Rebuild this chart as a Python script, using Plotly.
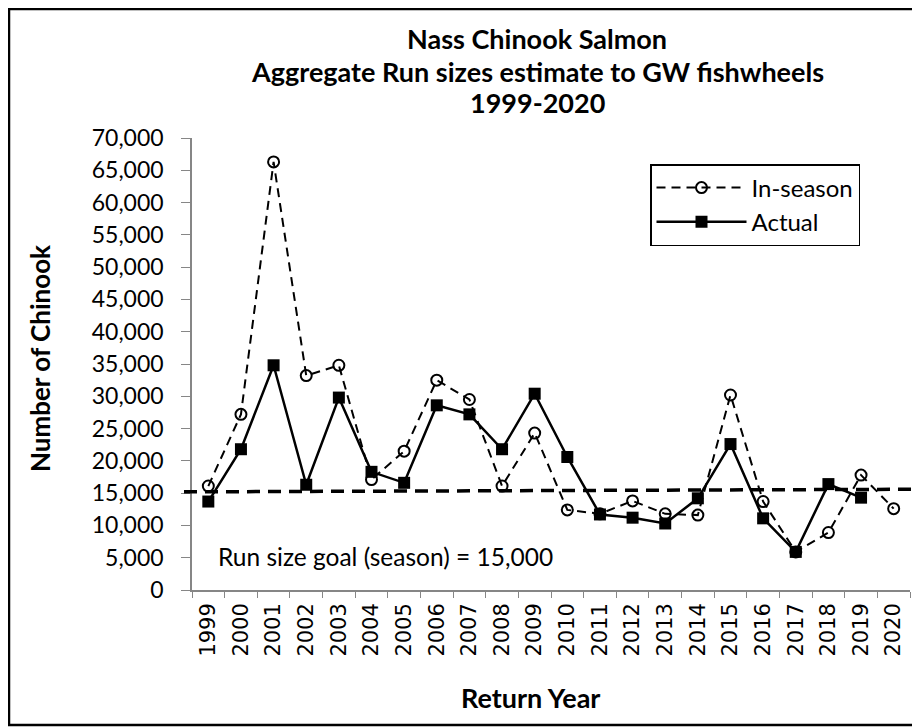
import plotly.graph_objects as go

years = [str(y) for y in range(1999, 2021)]
in_season = [16100, 27200, 66300, 33200, 34800, 17100, 21500, 32500, 29500, 16100, 24300,
             12400, 11800, 13800, 11800, 11600, 30200, 13700, 5900, 8900, 17800, 12600]
actual = [13700, 21800, 34800, 16300, 29800, 18300, 16600, 28600, 27200, 21800, 30400,
          20600, 11700, 11200, 10300, 14200, 22600, 11100, 5900, 16400, 14300, None]
goal = 15000
goal_line = [15200, 15600]  # drawn line drifts slightly upward to the right

# page sits 8px in from the window edge (body margin), so work in page pixels
OFF = 8
W, H = 920 - OFF, 728 - OFF
L, T = 192 - OFF, 138 - OFF
R, B = W - (910 - OFF), H - (590 - OFF)
pw, ph = W - L - R, H - T - B


def px_x(p):
    return (p - OFF - L) / pw


def px_y(p):
    return (H - B - (p - OFF)) / ph


calibri = "Lato"

fig = go.Figure()
fig.add_trace(go.Scatter(
    x=years, y=in_season, name="In-season", mode="lines+markers",
    line=dict(color="black", width=2, dash="9px,6px"),
    marker=dict(symbol="circle-open", size=11, color="black", line=dict(width=2)),
))
fig.add_trace(go.Scatter(
    x=years, y=actual, name="Actual", mode="lines+markers",
    line=dict(color="black", width=2.5),
    marker=dict(symbol="square", size=12, color="black"),
))

fig.add_shape(type="line", xref="paper", yref="y",
              x0=px_x(184), x1=px_x(914), y0=goal_line[0], y1=goal_line[1],
              line=dict(color="black", width=3.5, dash="13px,8px"))
fig.add_shape(type="rect", xref="paper", yref="paper",
              x0=px_x(OFF + 1), x1=px_x(917), y0=px_y(725), y1=px_y(OFF + 1),
              line=dict(color="black", width=2.5))

title_lines = ["Nass Chinook Salmon", "Aggregate Run sizes estimate to GW fishwheels", "1999-2020"]
for i, t in enumerate(title_lines):
    fig.add_annotation(text=f"<b>{t}</b>", xref="paper", yref="paper",
                       x=px_x(537), y=px_y(39 + 32 * i), showarrow=False,
                       font=dict(family=calibri, size=27, color="black"),
                       xanchor="center", yanchor="middle")

fig.add_annotation(text=f"Run size goal (season) = {goal:,}", xref="paper", yref="paper",
                   x=px_x(216), y=px_y(556), showarrow=False, xanchor="left", yanchor="middle",
                   font=dict(family=calibri, size=24.5, color="black"))
fig.add_annotation(text="<b>Return Year</b>", xref="paper", yref="paper",
                   x=px_x(530), y=px_y(697), showarrow=False, xanchor="center", yanchor="middle",
                   font=dict(family=calibri, size=27, color="black"))
fig.add_annotation(text="<b>Number of Chinook</b>", xref="paper", yref="paper",
                   x=px_x(40), y=px_y(359), showarrow=False, xanchor="center", yanchor="middle",
                   textangle=-90, font=dict(family=calibri, size=26, color="black"))

fig.update_layout(
    width=W, height=H,
    margin=dict(l=L, r=R, t=T, b=B),
    paper_bgcolor="white", plot_bgcolor="white",
    font=dict(family=calibri, size=22, color="black"),
    showlegend=True,
    legend=dict(x=px_x(650), y=px_y(164), xanchor="left", yanchor="top",
                bordercolor="black", borderwidth=1.5, bgcolor="white",
                font=dict(family=calibri, size=24), tracegroupgap=0,
                itemwidth=90),
)
fig.update_xaxes(
    type="category", range=[-0.5, len(years) - 0.5],
    showline=True, linecolor="#868686", linewidth=1.5,
    ticks="outside", ticklen=6, tickcolor="#868686", tickson="boundaries",
    tickangle=-90, tickfont=dict(family="DejaVu Sans", size=21), ticklabelstandoff=3,
    showgrid=False, zeroline=False,
)
fig.update_yaxes(
    range=[0, 70000], dtick=5000, tickformat=",",
    showline=True, linecolor="#868686", linewidth=1.5,
    ticks="outside", ticklen=9, tickcolor="#868686", ticklabelstandoff=13,
    tickfont=dict(family=calibri, size=23),
    showgrid=False, zeroline=False,
)

fig.write_html("out.html")
